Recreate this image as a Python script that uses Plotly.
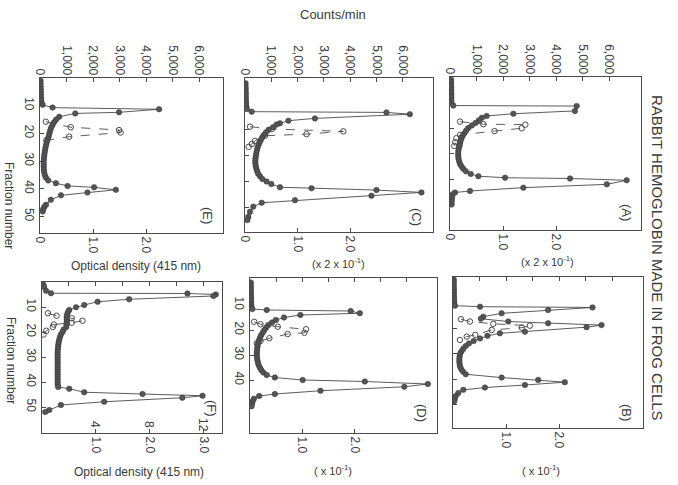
import plotly.graph_objects as go

W, H = 678, 485

# ---------------- data (fraction number, counts/min, optical density) ----------------
E_frac = [1, 2, 3, 4, 5, 6, 7, 8, 9, 9.7, 10.7, 11.3, 12.4, 12.8, 14,
          15, 16, 17, 18, 19, 20, 21, 22, 23, 24, 25, 26, 27, 28, 29, 30, 31, 32, 33, 34, 35, 36, 37,
          38, 39, 39.5, 40.4, 41.4, 42.4, 44, 45.8, 46.6, 47.4, 48.2]
E_cpm = [20, 20, 25, 30, 30, 35, 40, 45, 60, 100, 475, 4490, 2980, 1330, 725,
         610, 530, 470, 420, 385, 355, 330, 295, 260, 235, 210, 190, 175, 160, 150, 140, 140, 140, 145, 155, 180, 225, 310,
         600, 1040, 2040, 2860, 1790, 790, 410, 225, 160, 120, 100]
E_open_frac = [15.8, 17.8, 18.8, 19.7, 21.2, 22.5]
E_open_od = [0.11, 0.58, 1.49, 1.52, 0.55, 0.12]

C_frac = [2, 3, 4, 5, 6, 7, 8, 9, 10, 11, 12, 13, 13.3, 14, 15.6, 16.5, 17.5,
          18, 19, 20, 21, 22, 23, 24, 25, 26, 27, 28, 29, 30, 31, 32, 33, 34, 35, 36, 37, 38, 39, 40, 41,
          42.2, 42.6, 43.3, 44.2, 45.5, 47.2, 48.2, 49.7, 51.7, 53.6, 54.9]
C_cpm = [20, 20, 25, 25, 30, 30, 35, 35, 40, 50, 70, 255, 5380, 6270, 2660, 1650, 1330,
         1200, 1070, 900, 800, 715, 650, 600, 550, 510, 475, 450, 430, 415, 400, 392, 395, 410, 430, 465, 500, 570, 660, 820, 1000,
         1330, 2530, 5000, 6710, 4810, 1900, 635, 315, 190, 125, 90]
C_open_frac = [18.8, 19.7, 20.6, 21.7, 22.3, 24.3, 25.5, 26.6]
C_open_od = [0.095, 0.51, 1.87, 1.17, 0.38, 0.19, 0.13, 0.07]

A_frac = [1, 2, 3, 4, 5, 6, 7, 8, 9, 10, 11.2, 11.4, 13.3, 14.4, 15.3,
          16, 17, 18, 19, 20, 21, 22, 23, 24, 25, 26, 27, 28, 29, 30, 31, 32, 33, 34, 35, 36, 37, 38,
          38.9, 39.5, 39.8, 40.5, 42.1, 43.4, 44.7, 45.3, 46, 47, 48, 49, 50]
A_cpm = [40, 40, 40, 45, 45, 45, 50, 50, 50, 55, 125, 4775, 4710, 2390, 1380,
         1200, 1090, 960, 820, 690, 610, 550, 480, 430, 400, 380, 360, 330, 315, 310, 310, 320, 345, 375, 430, 500, 600, 780,
         1070, 2075, 4525, 6660, 5910, 2765, 755, 190, 100, 80, 70, 60, 60]
A_open_frac = [17.5, 18.5, 18.7, 20.1, 21.2, 22.7, 24, 25.5, 27]
A_open_od = [0.19, 0.63, 1.42, 1.35, 0.84, 0.19, 0.12, 0.1, 0.08]

F_frac = [1, 2, 3.5, 4.5, 4.6, 5.0, 5.6, 6.9, 7.9, 9.2, 10.1, 11.2,
          12, 13, 14, 15, 16, 17, 18, 19, 20, 21, 22, 23, 24, 25, 26, 27, 28, 29, 30, 31, 32, 33, 34, 35, 36, 37, 38, 39, 40, 41,
          42, 42.7, 44.1, 44.8, 45.5, 46.3, 47.9, 49.2, 51.2, 52]
F_cpm = [50, 80, 150, 333, 5390, 6440, 6350, 3230, 2060, 1565, 1260, 1010,
         960, 930, 915, 915, 915, 910, 900, 800, 760, 700, 665, 640, 620, 605, 595, 585, 580, 580, 580, 580, 580, 580, 580, 580, 580, 580, 580, 580, 580, 580,
         600, 1010, 1565, 3725, 5950, 5200, 2305, 700, 270, 120]
F_open_frac = [12.5, 13.5, 14.5, 15.5, 16.3, 17, 18, 19.5, 21]
F_open_od = [0.11, 0.27, 0.55, 0.75, 0.55, 0.22, 0.2, 0.08, 0.03]

D_frac = [1, 2, 3, 4, 5, 6, 7, 8, 9, 10, 11, 11.6, 12.0, 12.4, 13.3, 14.0,
          15, 16, 17, 18, 19, 20, 21, 22, 23, 24, 25, 26, 27, 28, 29, 30, 31, 32, 33, 34, 35, 36, 37, 38, 39,
          40.0, 40.6, 41.6, 42.7, 44.3, 45.6, 46.4, 47.5, 48.5, 49.5, 50.5]
D_cpm = [30, 30, 30, 35, 35, 35, 40, 40, 45, 50, 60, 90, 640, 3850, 4200, 1925,
         1300, 990, 840, 700, 620, 550, 490, 430, 385, 350, 320, 295, 280, 270, 262, 260, 268, 280, 305, 330, 375, 430, 510, 640, 950,
         2015, 4390, 6800, 5900, 2695, 950, 350, 150, 100, 80, 60]
D_open_frac = [16.7, 17.7, 18.7, 19.7, 21.1, 21.6, 23.3, 24.4, 25.3]
D_open_od = [0.08, 0.2, 0.53, 1.07, 1.04, 0.72, 0.37, 0.2, 0.13]

B_frac = [1, 2, 3, 4, 5, 6, 7, 8, 9, 10,
          11.2, 11.6, 11.9, 12.9, 14.2, 15.5, 16.3, 17.4, 18.1, 18.8, 19.6, 21.4, 22,
          23, 24, 25, 26, 27, 28, 29, 30, 31, 32, 33, 34, 35, 36, 37, 38,
          39.3, 40.2, 41.1, 42.2, 43.2, 44.1, 45.3, 46.5, 47.5, 48.5]
B_cpm = [30, 30, 30, 30, 35, 35, 35, 40, 40, 45,
         75, 1020, 5265, 3590, 1835, 1140, 1050, 2085, 3590, 5605, 5040, 2715, 1770,
         1300, 1020, 780, 600, 480, 390, 320, 270, 250, 240, 240, 250, 265, 310, 380, 480,
         1835, 3215, 4220, 2715, 1205, 390, 200, 100, 70, 50]
B_open_frac = [16.5, 17.4, 18.3, 19, 19.8, 20.7, 22.6, 23.3, 24.6]
B_open_od = [0.15, 0.32, 0.76, 1.45, 1.3, 0.73, 0.42, 0.26, 0.13]

# tick labels
COUNT_TICKS = [0, 1000, 2000, 3000, 4000, 5000, 6000]
COUNT_LABELS = ["0", "1,000", "2,000", "3,000", "4,000", "5,000", "6,000"]
FRACTION_TICKS = [10, 20, 30, 40, 50]
OD_TOP_TICKS = [0, 1, 2]
OD_TOP_LABELS = ["0", "1.0", "2.0"]
F_INNER_LABELS = ["4", "8", "12"]   # second optical-density scale of panel F (at 1.0, 2.0, 3.0)

TXT = "#3a3a3a"
LINE = "#4a4a4a"
FONT = "Liberation Sans"

# panel geometry in pixels: left, right, top, bottom, fraction min, fraction max, counts max
panels = [
    ("E", E_frac, E_cpm, E_open_frac, E_open_od, (40, 223, 78, 233, 0, 56, 6900)),
    ("C", C_frac, C_cpm, C_open_frac, C_open_od, (245, 433, 78, 232, 0, 59.5, 7150)),
    ("A", A_frac, A_cpm, A_open_frac, A_open_od, (450, 641, 77, 230, 0, 60, 7200)),
    ("F", F_frac, F_cpm, F_open_frac, F_open_od, (42, 222, 282, 433, 0, 60.4, 6670)),
    ("D", D_frac, D_cpm, D_open_frac, D_open_od, (250, 437, 278, 433, -0.8, 61.2, 7150)),
    ("B", B_frac, B_cpm, B_open_frac, B_open_od, (453, 643, 277, 428, 0, 59, 7170)),
]

fig = go.Figure()
layout = {}


def ref(prefix, k):
    return prefix if k == 1 else f"{prefix}{k}"


def fx(x):
    return x / W


def fy(y):
    return 1 - y / H


annotations = []


def ann(text, x, y, size=12, angle=0):
    annotations.append(dict(text=text, x=fx(x), y=fy(y), xref="paper", yref="paper", showarrow=False,
                            textangle=angle, font=dict(family=FONT, size=size, color=TXT),
                            xanchor="center", yanchor="middle"))


for i, (key, fr, cpm, ofr, ood, g) in enumerate(panels):
    n = i + 1
    l, r, t, b, fmin, fmax, cmax = g
    xb, xt = 2 * n - 1, 2 * n
    top_row = i < 3
    odmax = cmax / 2000.0

    # open circles, dashed (optical density, bottom axis)
    fig.add_trace(go.Scatter(
        x=ood, y=ofr, xaxis=ref("x", xb), yaxis=ref("y", n), mode="lines+markers",
        line=dict(color=LINE, width=0.9, dash="dash"),
        marker=dict(symbol="circle-open", size=5.5, color=LINE, line=dict(width=1)),
        showlegend=False, hoverinfo="skip"))
    # filled circles, solid (counts/min, top axis)
    fig.add_trace(go.Scatter(
        x=cpm, y=fr, xaxis=ref("x", xt), yaxis=ref("y", n), mode="lines+markers",
        line=dict(color=LINE, width=0.9),
        marker=dict(symbol="circle", size=5.5, color="#555555", line=dict(color="#333", width=0.5)),
        showlegend=False, hoverinfo="skip"))

    if top_row:
        bvals, btext = OD_TOP_TICKS, OD_TOP_LABELS
    elif key == "F":
        bvals, btext = [1, 2, 3], ["1.0", "2.0", "3.0"]
    else:
        bvals, btext = [1, 2], ["1.0", "2.0"]

    common = dict(showgrid=False, zeroline=False, tickcolor=LINE, ticklen=4, ticks="inside",
                  tickfont=dict(family=FONT, size=12, color=TXT), tickangle=90, automargin=False)
    layout["xaxis" if xb == 1 else f"xaxis{xb}"] = dict(
        domain=[fx(l), fx(r)], anchor=ref("y", n), range=[0, odmax], side="bottom",
        showline=True, mirror=True, linecolor=LINE, linewidth=1,
        tickvals=bvals, ticktext=btext, **common)
    layout[f"xaxis{xt}"] = dict(
        overlaying=ref("x", xb), anchor=ref("y", n), range=[0, cmax], side="top",
        showline=False, tickvals=COUNT_TICKS, ticktext=COUNT_LABELS,
        showticklabels=top_row, **common)
    yt = [10, 20, 30, 40] if key == "D" else FRACTION_TICKS
    layout["yaxis" if n == 1 else f"yaxis{n}"] = dict(
        domain=[fy(b), fy(t)], anchor=ref("x", xb), range=[fmax, fmin],
        showline=True, mirror=True, linecolor=LINE, linewidth=1,
        tickvals=yt, showticklabels=key in ("E", "F", "D"), **common)

    if key == "F":
        # inner labels of the second scale, placed at the 1.0 / 2.0 / 3.0 ticks
        for v, lab in zip([1, 2, 3], F_INNER_LABELS):
            ann(lab, l + v / odmax * (r - l) - 1, 425, 12, 90)

ann("Counts/min", 333, 14, 13)
ann("RABBIT HEMOGLOBIN MADE IN FROG CELLS", 658, 258, 15, 90)
ann("Fraction number", 9, 205, 12, 90)
ann("Fraction number", 11, 360, 12, 90)
ann("Optical density (415 nm)", 136, 266, 12)
ann("(x 2 x 10<sup>-1</sup>)", 338, 263, 11)
ann("(x 2 x 10<sup>-1</sup>)", 547, 261, 11)
ann("Optical density (415 nm)", 139, 472, 12)
ann("( x 10<sup>-1</sup>)", 333, 470, 11)
ann("( x 10<sup>-1</sup>)", 541, 470, 11)
ann("(E)", 208, 215, 13, 90)
ann("(C)", 416, 217, 13, 90)
ann("(A)", 627, 212, 13, 90)
ann("(F)", 212, 408, 13, 90)
ann("(D)", 422, 413, 13, 90)
ann("(B)", 627, 412, 13, 90)

fig.update_layout(
    width=W, height=H, autosize=False,
    margin=dict(l=0, r=0, t=0, b=0, autoexpand=False),
    paper_bgcolor="white", plot_bgcolor="white",
    font=dict(family=FONT, color=TXT),
    annotations=annotations,
    **layout)

# remove the browser's default 8 px body margin so the figure fills the window
fig.write_html("out.html", config={"displayModeBar": False},
               post_script="document.body.style.margin='0';")
